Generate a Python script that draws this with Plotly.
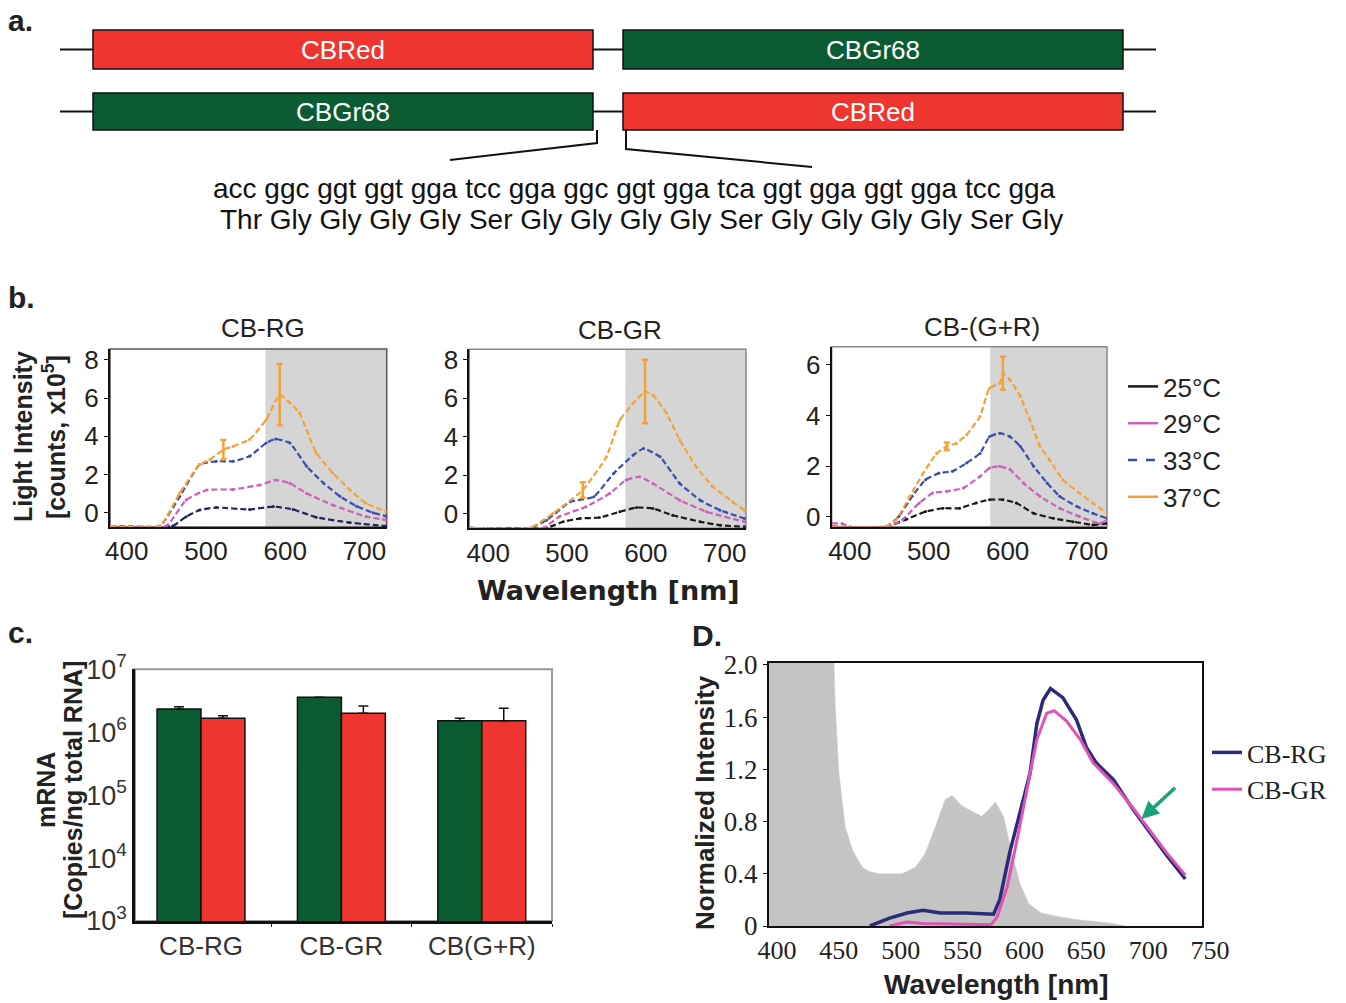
import plotly.graph_objects as go

W, H = 1346, 1003

# ======================= DATA =======================
# ---- panel a: construct schematic ----
construct_rg = ["CBRed", "CBGr68"]
construct_gr = ["CBGr68", "CBRed"]
gene_length = [500, 500]          # schematic length of each coding block
linker_dna = "acc ggc ggt ggt gga tcc gga ggc ggt gga tca ggt gga ggt gga tcc gga"
linker_aa = "Thr Gly Gly Gly Gly Ser Gly Gly Gly Gly Ser Gly Gly Gly Gly Ser Gly"

# ---- panel b: emission spectra (light intensity, counts x10^5) ----
temps = ["25°C", "29°C", "33°C", "37°C"]
b_titles = ["CB-RG", "CB-GR", "CB-(G+R)"]

rg_wl_25 = [379, 458, 475, 492, 513, 555, 585, 610, 639, 681, 727]
rg_int_25 = [-0.7, -0.7, -0.21, 0.14, 0.27, 0.17, 0.32, 0.17, -0.24, -0.52, -0.7]
rg_wl_29 = [379, 450, 475, 501, 534, 568, 588, 606, 627, 660, 702, 727]
rg_int_29 = [-0.7, -0.7, 0.67, 1.19, 1.22, 1.45, 1.71, 1.54, 1.01, 0.4, -0.21, -0.38]
rg_wl_33 = [379, 442, 467, 492, 513, 534, 555, 576, 588, 606, 627, 648, 669, 690, 711, 727]
rg_int_33 = [-0.7, -0.7, 0.85, 2.52, 2.69, 2.69, 2.95, 3.65, 3.86, 3.65, 2.43, 1.56, 0.86, 0.34, -0.01, -0.18]
rg_wl_37 = [379, 442, 467, 492, 505, 522, 534, 555, 576, 593, 606, 618, 639, 660, 681, 702, 727]
rg_int_37 = [-0.7, -0.7, 1.03, 2.52, 2.78, 3.3, 3.47, 3.83, 4.87, 6.18, 5.75, 5.22, 3.13, 2.08, 1.21, 0.49, 0.06]
rg_err_wl = [522, 593]
rg_err_int = [3.3, 6.18]
rg_err = [0.5, 1.6]

gr_wl_25 = [376, 474, 495, 516, 541, 567, 588, 609, 634, 669, 694, 725]
gr_int_25 = [-0.75, -0.75, -0.43, -0.26, -0.21, 0.09, 0.31, 0.26, -0.09, -0.43, -0.61, -0.69]
gr_wl_29 = [376, 470, 490, 524, 554, 575, 592, 609, 643, 677, 725]
gr_int_29 = [-0.75, -0.75, -0.17, 0.35, 1.04, 1.74, 1.91, 1.56, 0.69, 0.09, -0.43]
gr_wl_33 = [376, 453, 474, 504, 534, 559, 584, 597, 618, 643, 669, 694, 725]
gr_int_33 = [-0.75, -0.75, -0.35, 0.61, 0.87, 2.08, 3.04, 3.38, 2.95, 1.56, 0.69, 0.17, -0.26]
gr_wl_37 = [376, 453, 482, 520, 550, 567, 584, 599, 609, 626, 643, 664, 685, 710, 725]
gr_int_37 = [-0.75, -0.75, 0.0, 1.22, 2.95, 4.86, 5.73, 6.34, 6.16, 5.22, 3.82, 2.42, 1.39, 0.61, 0.17]
gr_err_wl = [520, 599]
gr_err_int = [1.22, 6.34]
gr_err = [0.4, 1.65]

mix_wl_25 = [377, 446, 471, 496, 518, 539, 560, 577, 594, 611, 633, 658, 683, 708, 726]
mix_int_25 = [-0.4, -0.4, -0.12, 0.2, 0.33, 0.33, 0.54, 0.67, 0.67, 0.54, 0.13, -0.07, -0.2, -0.33, -0.27]
mix_wl_29 = [377, 390, 400, 450, 467, 488, 505, 523, 544, 565, 577, 590, 603, 620, 641, 666, 691, 717, 726]
mix_int_29 = [-0.27, -0.27, -0.4, -0.4, -0.12, 0.54, 0.93, 1.0, 1.13, 1.59, 1.92, 1.99, 1.86, 1.33, 0.8, 0.33, 0.0, -0.27, -0.14]
mix_wl_33 = [377, 446, 462, 479, 496, 513, 530, 548, 565, 577, 590, 603, 616, 633, 650, 666, 688, 708, 726]
mix_int_33 = [-0.4, -0.4, 0.0, 0.8, 1.46, 1.72, 1.79, 2.12, 2.5, 3.16, 3.3, 3.16, 2.78, 1.99, 1.33, 0.8, 0.4, 0.13, -0.07]
mix_wl_37 = [377, 446, 459, 476, 493, 510, 523, 535, 548, 565, 577, 590, 594, 603, 616, 628, 641, 653, 670, 691, 708, 726]
mix_int_37 = [-0.4, -0.4, -0.12, 0.8, 1.72, 2.5, 2.78, 2.9, 3.24, 3.96, 5.08, 5.28, 5.67, 5.41, 4.76, 3.84, 2.78, 2.25, 1.46, 0.93, 0.54, 0.13]
mix_err_wl = [523, 594]
mix_err_int = [2.78, 5.67]
mix_err = [0.15, 0.65]

shade_start_nm = [575, 574, 578]     # start of shaded (red) window per panel

# ---- panel c: mRNA copies ----
c_constructs = ["CB-RG", "CB-GR", "CB(G+R)"]
c_green = [2.35e6, 3.6e6, 1.52e6]
c_green_err = [0.2e6, 0.0, 0.15e6]
c_red = [1.67e6, 2.0e6, 1.52e6]
c_red_err = [0.15e6, 0.62e6, 0.89e6]

# ---- panel D: normalized spectra ----
d_filter_wl = [400, 451, 453.5, 456.5, 461.5, 467.5, 475.5, 480.5, 488.5, 507.5, 518.5, 526.5, 534.5,
               542.5, 548, 556, 564, 572, 577.5, 583, 589.5, 596.5, 603, 610, 620, 634, 648, 678, 688]
d_filter_int = [2.5, 2.5, 1.68, 1.17, 0.76, 0.58, 0.45, 0.42, 0.40, 0.40, 0.45, 0.56, 0.76,
                0.97, 1.0, 0.92, 0.88, 0.84, 0.89, 0.95, 0.84, 0.55, 0.32, 0.17, 0.10, 0.07, 0.05, 0.02, 0.0]
d_rg_wl = [481.5, 497.5, 511.5, 524.5, 538.5, 559.5, 581.5, 586.5, 594.5, 602.5, 611, 616.5, 621.5,
           627.5, 637.5, 648.5, 656.5, 664.5, 678.5, 694.5, 708, 721.5, 736.5]
d_rg_int = [0.0, 0.06, 0.10, 0.12, 0.10, 0.10, 0.09, 0.20, 0.56, 0.86, 1.17, 1.55, 1.73,
            1.82, 1.75, 1.58, 1.37, 1.25, 1.12, 0.89, 0.71, 0.54, 0.36]
d_gr_wl = [497.5, 511.5, 524.5, 579.5, 584.5, 592.5, 600.5, 608.5, 616.5, 624.5, 630.5, 640.5,
           651.5, 662, 678.5, 694.5, 708, 721.5, 736.5]
d_gr_int = [0.0, 0.03, 0.02, 0.01, 0.07, 0.30, 0.66, 1.04, 1.43, 1.63, 1.65, 1.57,
            1.43, 1.25, 1.09, 0.90, 0.73, 0.56, 0.39]
d_arrow_head = [701, 0.82]
d_arrow_tail = [729.5, 1.07]

# ======================= STYLE / LAYOUT =======================
SANS = "Liberation Sans, Arial, sans-serif"
SERIF = "Liberation Serif, Times New Roman, serif"
RED = "#ef3530"
GREEN = "#0b5b33"
gene_color = {"CBRed": RED, "CBGr68": GREEN}
temp_color = {"25°C": "#1a1a1a", "29°C": "#cc5fb8", "33°C": "#3a4db0", "37°C": "#f4a236"}


def xd(a, b):
    return [a / W, b / W]


def yd(top, bottom):
    return [1 - bottom / H, 1 - top / H]


fig = go.Figure()

# ---------- panel a (schematic canvas, 1 unit = 1 px) ----------
START_X, LINK_GAP, FLANK = 93, 30, 33
ROW_Y = [49.5, 111.5]
ROW_H = [39, 37]
bx, bbase, by, bw, bc, bt = [], [], [], [], [], []
lx, ly = [], []
link_ends = []
for r, construct in enumerate([construct_rg, construct_gr]):
    s0 = START_X
    s1 = s0 + gene_length[0] + LINK_GAP
    for name, start, ln in zip(construct, [s0, s1], gene_length):
        bx.append(ln); bbase.append(start); by.append(ROW_Y[r]); bw.append(ROW_H[r])
        bc.append(gene_color[name]); bt.append(name)
    e1 = s1 + gene_length[1]
    lx += [s0 - FLANK, s0, None, s0 + gene_length[0], s1, None, e1, e1 + FLANK, None]
    ly += [ROW_Y[r]] * 2 + [None] + [ROW_Y[r]] * 2 + [None] + [ROW_Y[r]] * 2 + [None]
    link_ends = [s0 + gene_length[0], s1]

fig.add_trace(go.Scatter(x=lx, y=ly, mode="lines", line=dict(color="#111", width=2),
                         xaxis="x", yaxis="y", showlegend=False, hoverinfo="skip"))
fig.add_trace(go.Bar(x=bx, base=bbase, y=by, width=bw, orientation="h",
                     marker=dict(color=bc, line=dict(color="#111", width=1.5)),
                     text=bt, textposition="inside", insidetextanchor="middle",
                     textfont=dict(color="white", size=26, family=SANS),
                     xaxis="x", yaxis="y", showlegend=False, hoverinfo="skip"))
row2_bottom = ROW_Y[1] + ROW_H[1] / 2
FAN = [(450, 160), (812, 167)]
cx = [link_ends[0] + 4, link_ends[0] + 4, FAN[0][0], None,
      link_ends[1] + 3, link_ends[1] + 3, FAN[1][0]]
cy = [row2_bottom, row2_bottom + 13, FAN[0][1], None,
      row2_bottom, row2_bottom + 19, FAN[1][1]]
fig.add_trace(go.Scatter(x=cx, y=cy, mode="lines", line=dict(color="#111", width=2),
                         xaxis="x", yaxis="y", showlegend=False, hoverinfo="skip"))

# ---------- panel b ----------
b_sets = [
    {"25°C": (rg_wl_25, rg_int_25), "29°C": (rg_wl_29, rg_int_29),
     "33°C": (rg_wl_33, rg_int_33), "37°C": (rg_wl_37, rg_int_37)},
    {"25°C": (gr_wl_25, gr_int_25), "29°C": (gr_wl_29, gr_int_29),
     "33°C": (gr_wl_33, gr_int_33), "37°C": (gr_wl_37, gr_int_37)},
    {"25°C": (mix_wl_25, mix_int_25), "29°C": (mix_wl_29, mix_int_29),
     "33°C": (mix_wl_33, mix_int_33), "37°C": (mix_wl_37, mix_int_37)},
]
b_errs = [(rg_err_wl, rg_err_int, rg_err), (gr_err_wl, gr_err_int, gr_err),
          (mix_err_wl, mix_err_int, mix_err)]
b_axes = [("x2", "y2"), ("x3", "y3"), ("x4", "y4")]
for i, (data, (xa, ya)) in enumerate(zip(b_sets, b_axes)):
    for t in temps:
        col = temp_color[t]
        if i == 0 and t == "25°C":
            col = "#23235f"
        wl, val = data[t]
        fig.add_trace(go.Scatter(x=wl, y=val, mode="lines+markers", name=t,
                                 line=dict(color=col, width=2.2, dash="6px,3px", shape="spline", smoothing=0.4),
                                 marker=dict(size=3, color=col),
                                 xaxis=xa, yaxis=ya, showlegend=False, hoverinfo="skip"))
    ew, ev, ee = b_errs[i]
    fig.add_trace(go.Scatter(x=ew, y=ev, mode="markers", marker=dict(size=1, color=temp_color["37°C"]),
                             error_y=dict(type="data", array=ee, color=temp_color["37°C"], thickness=2.5, width=3),
                             xaxis=xa, yaxis=ya, showlegend=False, hoverinfo="skip"))

# legend entries (solid key lines like the reference key)
for t in temps:
    fig.add_trace(go.Scatter(x=[None], y=[None], mode="lines", name=t,
                             line=dict(color=temp_color[t], width=2.5,
                                       dash="dash" if t == "33°C" else "solid"),
                             xaxis="x4", yaxis="y4", legend="legend", showlegend=True))

# ---------- panel c ----------
fig.add_trace(go.Bar(x=c_constructs, y=c_green, name="CBGr68",
                     marker=dict(color=GREEN, line=dict(color="#111", width=1.5)),
                     error_y=dict(type="data", symmetric=False, array=c_green_err, arrayminus=[0, 0, 0],
                                  color="#111", thickness=1.5, width=5),
                     xaxis="x5", yaxis="y5", showlegend=False, hoverinfo="skip"))
fig.add_trace(go.Bar(x=c_constructs, y=c_red, name="CBRed",
                     marker=dict(color=RED, line=dict(color="#111", width=1.5)),
                     error_y=dict(type="data", symmetric=False, array=c_red_err, arrayminus=[0, 0, 0],
                                  color="#111", thickness=1.5, width=5),
                     xaxis="x5", yaxis="y5", showlegend=False, hoverinfo="skip"))

# ---------- panel D ----------
fig.add_trace(go.Scatter(x=d_filter_wl, y=d_filter_int, mode="lines", fill="tozeroy",
                         line=dict(color="#c4c4c4", width=0.5), fillcolor="#c4c4c4",
                         xaxis="x6", yaxis="y6", showlegend=False, hoverinfo="skip"))
fig.add_trace(go.Scatter(x=d_rg_wl, y=d_rg_int, mode="lines", name="CB-RG",
                         line=dict(color="#2b2b7a", width=3.5),
                         xaxis="x6", yaxis="y6", legend="legend2"))
fig.add_trace(go.Scatter(x=d_gr_wl, y=d_gr_int, mode="lines", name="CB-GR",
                         line=dict(color="#e052b4", width=3),
                         xaxis="x6", yaxis="y6", legend="legend2"))

# ---------- axes ----------
tickf = dict(size=26, color="#222", family=SANS)
layout = dict(
    width=W, height=H, margin=dict(l=0, r=0, t=0, b=0, autoexpand=False),
    paper_bgcolor="white", plot_bgcolor="white",
    barmode="group", bargap=0.374, bargroupgap=0,
    font=dict(family=SANS, color="#222"),
    xaxis=dict(domain=[0, 1], range=[0, W], visible=False, automargin=False),
    yaxis=dict(domain=yd(0, 240), range=[240, 0], visible=False, automargin=False),
)
b_dom = [((110, 386.7), (349, 527)), ((469.3, 746), (349.3, 528.3)), ((831.7, 1107), (346.7, 526.7))]
b_xr = [[379, 728], [376, 727], [377, 726]]
b_yr = [[-0.75, 8.57], [-0.77, 8.54], [-0.4, 6.72]]
b_yt = [[0, 2, 4, 6, 8], [0, 2, 4, 6, 8], [0, 2, 4, 6]]
for i in range(3):
    (x0, x1), (y0, y1) = b_dom[i]
    n = i + 2
    layout[f"xaxis{n}"] = dict(domain=xd(x0, x1), range=b_xr[i], anchor=f"y{n}", automargin=False,
                               tickvals=[400, 500, 600, 700], showline=True, linecolor="#111",
                               linewidth=2, ticks="", tickfont=tickf, showgrid=False, zeroline=False)
    layout[f"yaxis{n}"] = dict(domain=yd(y0, y1), range=b_yr[i], anchor=f"x{n}", automargin=False,
                               tickvals=b_yt[i], showline=True, linecolor="#111", linewidth=2,
                               ticks="outside", ticklen=4, tickcolor="#111", tickfont=tickf,
                               showgrid=False, zeroline=False)

layout["xaxis5"] = dict(domain=xd(135, 552), range=[-0.47, 2.5], anchor="y5", type="category",
                        automargin=False,
                        showline=True, linecolor="#111", linewidth=2.5, tickson="boundaries",
                        ticks="outside", ticklen=3, tickcolor="#111",
                        tickfont=dict(size=26, color="#333", family=SANS), showgrid=False)
layout["yaxis5"] = dict(domain=yd(669.3, 921), range=[3, 7], type="log", anchor="x5", automargin=False,
                        tickvals=[1e3, 1e4, 1e5, 1e6, 1e7],
                        ticktext=["10<sup>3</sup>", "10<sup>4</sup>", "10<sup>5</sup>",
                                  "10<sup>6</sup>", "10<sup>7</sup>"],
                        showline=True, linecolor="#111", linewidth=2.5, ticks="",
                        tickfont=dict(size=27, color="#333", family=SANS), showgrid=False)

layout["xaxis6"] = dict(domain=xd(769, 1202), range=[400, 750], anchor="y6", automargin=False,
                        tickvals=[400, 450, 500, 550, 600, 650, 700, 750], ticklabelshift=8,
                        showline=True, mirror=True, linecolor="#111", linewidth=2, ticks="",
                        tickfont=dict(size=26, color="#222", family=SERIF), showgrid=False, zeroline=False)
layout["yaxis6"] = dict(domain=yd(663, 926), range=[0, 2.015], anchor="x6", automargin=False,
                        tickvals=[0, 0.4, 0.8, 1.2, 1.6, 2.0],
                        ticktext=["0", "0.4", "0.8", "1.2", "1.6", "2.0"],
                        showline=True, mirror=True, linecolor="#111", linewidth=2,
                        ticks="outside", ticklen=4, tickcolor="#111",
                        tickfont=dict(size=27, color="#222", family=SERIF), showgrid=False, zeroline=False)

layout["legend"] = dict(x=1123 / W, y=1 - 363 / H, xanchor="left", yanchor="top",
                        font=dict(size=26, color="#222", family=SANS), bgcolor="rgba(0,0,0,0)",
                        itemwidth=30, tracegroupgap=0)
layout["legend2"] = dict(x=1207 / W, y=1 - 729 / H, xanchor="left", yanchor="top",
                         font=dict(size=26, color="#222", family=SERIF), bgcolor="rgba(0,0,0,0)",
                         itemwidth=30, tracegroupgap=0)
fig.update_layout(**layout)

# ---------- shapes: shaded windows and frames ----------
shapes = []
for i in range(3):
    n = i + 2
    shapes.append(dict(type="rect", xref=f"x{n}", yref=f"y{n} domain", x0=shade_start_nm[i],
                       x1=b_xr[i][1], y0=0, y1=1, fillcolor="#d5d5d5", line=dict(width=0), layer="below"))
    shapes.append(dict(type="rect", xref=f"x{n} domain", yref=f"y{n} domain", x0=0, x1=1, y0=0, y1=1,
                       line=dict(color="#555" if i == 0 else "#888", width=1.5), layer="below"))
shapes.append(dict(type="rect", xref="x5 domain", yref="y5 domain", x0=0, x1=1, y0=0, y1=1,
                   line=dict(color="#999", width=2), layer="below"))
fig.update_layout(shapes=shapes)

# ---------- text ----------
ann = []


def T(text, px, py, size, bold=False, angle=0, anchor="center", family=SANS, color="#222"):
    ann.append(dict(text=f"<b>{text}</b>" if bold else text, x=px / W, y=1 - py / H,
                    xref="paper", yref="paper", xanchor=anchor, yanchor="middle",
                    showarrow=False, textangle=angle, font=dict(size=size, family=family, color=color)))


T("a.", 6, 20, 30, bold=True, anchor="left")
T("b.", 6, 298, 30, bold=True, anchor="left")
T("c.", 6, 632, 30, bold=True, anchor="left")
T("D.", 690, 635, 30, bold=True, anchor="left")
T(linker_dna, 634, 188, 28, color="#111")
T(linker_aa, 641, 219, 28, color="#111")
for title, (px, py) in zip(b_titles, [(263, 328), (620, 330), (982, 327)]):
    T(title, px, py, 26)
T("Light Intensity", 23, 437, 25, bold=True, angle=-90)
T("[counts, x10<sup>5</sup>]", 54, 437, 25, bold=True, angle=-90)
T("Wavelength [nm]", 608, 590, 27, bold=True, family="DejaVu Sans, Verdana, sans-serif")
T("mRNA", 46, 790, 25, bold=True, angle=-90)
T("[Copies/ng total RNA]", 73, 790, 25, bold=True, angle=-90)
T("Normalized Intensity", 705, 803, 26, bold=True, angle=-90)
T("Wavelength [nm]", 996, 984, 28, bold=True)

ann.append(dict(x=d_arrow_head[0], y=d_arrow_head[1], ax=d_arrow_tail[0], ay=d_arrow_tail[1],
                xref="x6", yref="y6", axref="x6", ayref="y6", showarrow=True,
                arrowhead=2, arrowsize=1, arrowwidth=3.5, arrowcolor="#1aa37a", text=""))
fig.update_layout(annotations=ann)

fig.write_html("out.html", config={"displayModeBar": False},
               post_script="document.body.style.margin='0px';document.body.style.overflow='hidden';")
